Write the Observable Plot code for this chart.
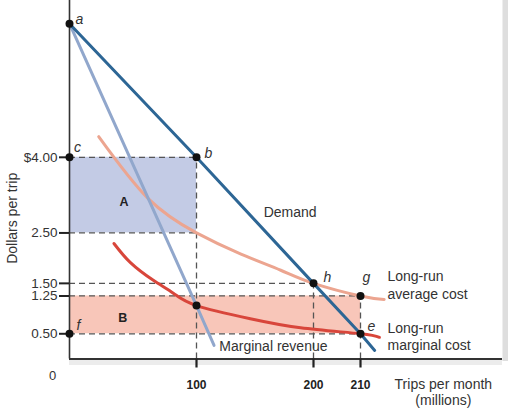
<!DOCTYPE html>
<html>
<head>
<meta charset="utf-8">
<script src="https://cdn.jsdelivr.net/npm/d3@7"></script>
<script src="https://cdn.jsdelivr.net/npm/@observablehq/plot@0.6"></script>
<style>
  body { margin: 0; background: #fff; }
  #chart svg { display: block; }
</style>
</head>
<body>
<div id="chart"></div>
<script>
// trips in millions per month, prices in dollars per trip
const demandQ = [0, 100, 200, 210, 213];
const demandP = [6.65, 4.0, 1.5, 0.5, 0.17];
const mrQ = [0, 100, 115];
const mrP = [6.65, 1.06, 0.27];
const lracQ = [23, 62, 100, 138, 172, 200, 210, 215];
const lracP = [4.41, 3.18, 2.5, 2.08, 1.76, 1.5, 1.25, 1.18];
const lrmcQ = [35, 48, 66, 82, 100, 146, 189, 210, 214];
const lrmcP = [2.29, 1.91, 1.56, 1.3, 1.06, 0.8, 0.62, 0.5, 0.43];

const yTicks = [0.5, 1.25, 1.5, 2.5, 4];
const yTickLabels = ["0.50", "1.25", "1.50", "2.50", "$4.00"];
const xTicks = [100, 200, 210];
const xTickLabels = ["100", "200", "210"];

// labelled points on the curves
const pointNames = ["a", "c", "b", "h", "g", "e", "f", ""];
const pointQ = [0, 0, 100, 200, 210, 210, 0, 100];
const pointP = [6.65, 4, 4, 1.5, 1.25, 0.5, 0.5, 1.06];

// shaded areas A and B
const areaNames = ["A", "B"];
const areaQ = [100, 210];
const areaTop = [4, 1.25];
const areaBottom = [2.5, 0.5];

// dashed guides: price level and the quantity it runs to
const guideP = [4, 2.5, 1.5, 1.25, 0.5];
const guideQ = [100, 100, 200, 210, 210];
const dropQ = [100, 200, 210];
const dropP = [4, 1.5, 1.25];

const pts = (qs, ps) => qs.map((q, i) => ({q, p: ps[i]}));

// label nudges in pixels
const nudge = {a: [10, -4], c: [8, -10], b: [12, -4], h: [14, -6], g: [6, -18], e: [11, -7], f: [9, -8]};

const curveStyle = {x: "q", y: "p", strokeWidth: 3, strokeLinecap: "round"};

const chart = Plot.plot({
  width: 508,
  height: 415,
  marginLeft: 69,
  marginRight: 6,
  marginTop: 0,
  marginBottom: 56.5,
  x: {type: "linear", domain: [0, 100, 200, 210, 240], range: [69, 196, 313, 360, 502]},
  y: {domain: [0, 7.11], range: [358.5, 0]},
  style: {fontFamily: "Liberation Sans, Arial, sans-serif", fontSize: 12, color: "#333", background: "white", overflow: "visible"},
  marks: [
    // frame shadow
    Plot.ruleX([240], {y1: -0.05, y2: 7.11, stroke: "#dedede", strokeWidth: 6, dx: 3}),
    Plot.ruleY([0], {x1: 0, x2: 240, stroke: "#ececec", strokeWidth: 5, dy: 3.5}),
    Plot.rect(areaNames, {
      x1: 0, x2: (d, i) => areaQ[i], y1: (d, i) => areaBottom[i], y2: (d, i) => areaTop[i],
      fill: (d, i) => ["#c3cbe5", "#f8c6b9"][i]
    }),
    Plot.ruleY(guideP, {x1: 0, x2: (d, i) => guideQ[i], stroke: "#555", strokeWidth: 1.3, strokeDasharray: "6,4"}),
    Plot.ruleX(dropQ, {y1: 0, y2: (d, i) => dropP[i], stroke: "#555", strokeWidth: 1.3, strokeDasharray: "6,4"}),
    Plot.line(pts(lracQ, lracP), {...curveStyle, stroke: "#eca590", curve: "natural"}),
    Plot.line(pts(lrmcQ, lrmcP), {...curveStyle, stroke: "#d8463b", curve: "natural"}),
    Plot.line(pts(mrQ, mrP), {...curveStyle, stroke: "#91a7cc"}),
    Plot.line(pts(demandQ, demandP), {...curveStyle, stroke: "#2d6695"}),
    Plot.ruleX([0], {y1: 0, y2: 7.11, stroke: "#333", strokeWidth: 1.6}),
    Plot.ruleY([0], {x1: 0, x2: 240, stroke: "#333", strokeWidth: 2}),
    Plot.axisY(yTicks, {
      tickFormat: d => yTickLabels[yTicks.indexOf(d)],
      tickSize: 10, tickPadding: 2, stroke: "#222", strokeWidth: 2, fontSize: 13.5, label: null
    }),
    Plot.axisX(xTicks, {
      tickFormat: d => xTickLabels[xTicks.indexOf(d)],
      tickSize: 9, tickPadding: 12, stroke: "#222", strokeWidth: 2.2, fontSize: 12, fontWeight: "bold", fill: "#222", label: null
    }),
    Plot.dot(pts(pointQ, pointP), {x: "q", y: "p", r: 4, fill: "#111"}),
    ...pointNames.filter(n => n).map(n => {
      const i = pointNames.indexOf(n);
      return Plot.text([n], {x: pointQ[i], y: pointP[i], text: d => d, dx: nudge[n][0], dy: nudge[n][1],
        fontStyle: "italic", fontSize: 14, fill: "#333"});
    }),
    Plot.text(areaNames, {
      x: (d, i) => [43, 42][i], y: (d, i) => [3.11, 0.81][i], text: d => d,
      fontWeight: "bold", fontSize: 12.5, fill: "#222"
    }),
    Plot.text(["Demand"], {x: 180, y: 2.91, text: d => d, fontSize: 14, fill: "#333"}),
    Plot.text(["Marginal revenue"], {x: 119.5, y: 0.25, text: d => d, fontSize: 14, fill: "#333", textAnchor: "start"}),
    Plot.text(["Long-run\naverage cost"], {x: 215.7, y: 1.48, text: d => d, fontSize: 14, fill: "#333", textAnchor: "start", lineHeight: 1.28}),
    Plot.text(["Long-run\nmarginal cost"], {x: 215.7, y: 0.46, text: d => d, fontSize: 14, fill: "#333", textAnchor: "start", lineHeight: 1.2}),
    Plot.text(["Trips per month\n(millions)"], {x: 227.5, y: -0.66, text: d => d, fontSize: 14, fill: "#333", lineHeight: 1.15}),
    Plot.text(["Dollars per trip"], {x: 0, y: 2.79, text: d => d, dx: -57, rotate: -90, fontSize: 14, fill: "#333"}),
    Plot.text(["0"], {x: 0, y: 0, text: d => d, dx: -17, dy: 17, fontSize: 13, fill: "#333"})
  ]
});

d3.select("#chart").append(() => chart);
</script>
</body>
</html>
